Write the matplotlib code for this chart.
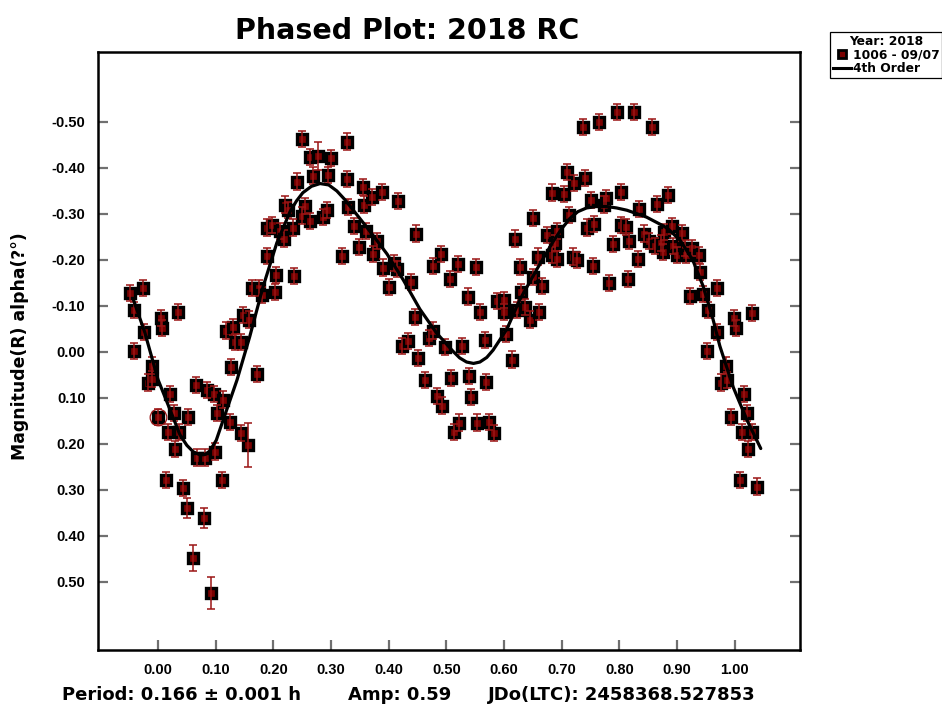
import matplotlib
matplotlib.use("Agg")
import matplotlib.pyplot as plt
from matplotlib.lines import Line2D

# ---------------- data ----------------
phase = [-0.049, -0.042, -0.026, -0.024, -0.042, 0.005, 0.007, 0.035, -0.010, -0.017,
         -0.010, 0.000, 0.014, 0.017, 0.021, 0.028, 0.029, 0.036, 0.043, 0.050,
         0.052, 0.061, 0.066, 0.068, 0.080, 0.081, 0.085, 0.092, 0.097, 0.099,
         0.102, 0.111, 0.113, 0.118, 0.125, 0.127, 0.130, 0.133, 0.144, 0.144,
         0.147, 0.156, 0.158, 0.163, 0.172, 0.175, 0.180, 0.189, 0.189, 0.198,
         0.203, 0.205, 0.211, 0.218, 0.220, 0.225, 0.234, 0.236, 0.241, 0.250,
         0.250, 0.255, 0.263, 0.263, 0.269, 0.277, 0.286, 0.293, 0.295, 0.300,
         0.319, 0.328, 0.328, 0.329, 0.340, 0.348, 0.355, 0.357, 0.360, 0.371,
         0.373, 0.380, 0.388, 0.390, 0.400, 0.409, 0.414, 0.416, 0.423, 0.433,
         0.438, 0.445, 0.447, 0.451, 0.463, 0.470, 0.477, 0.477, 0.484, 0.490,
         0.492, 0.497, 0.506, 0.508, 0.513, 0.520, 0.522, 0.527, 0.537, 0.539,
         0.542, 0.551, 0.553, 0.558, 0.567, 0.568, 0.574, 0.582, 0.588, 0.600,
         0.600, 0.603, 0.614, 0.619, 0.622, 0.627, 0.629, 0.636, 0.645, 0.650,
         0.650, 0.659, 0.660, 0.666, 0.674, 0.683, 0.683, 0.688, 0.692, 0.692,
         0.704, 0.709, 0.712, 0.719, 0.721, 0.726, 0.737, 0.740, 0.743, 0.750,
         0.754, 0.756, 0.764, 0.773, 0.776, 0.782, 0.789, 0.795, 0.802, 0.802,
         0.811, 0.815, 0.816, 0.825, 0.832, 0.834, 0.842, 0.851, 0.856, 0.861,
         0.865, 0.872, 0.875, 0.877, 0.884, 0.891, 0.893, 0.899, 0.908, 0.913,
         0.915, 0.925, 0.938, 0.939, 0.922, 0.945, 0.969, 0.953, 0.998, 1.002,
         1.029, 0.969, 0.951, 0.984, 0.976, 0.986, 1.016, 1.021, 0.993, 1.012,
         1.029, 1.023, 1.009, 1.038]

mag = [-0.128, -0.091, -0.139, -0.043, -0.002, -0.074, -0.052, -0.087, 0.030, 0.067,
       0.059, 0.141, 0.278, 0.174, 0.091, 0.133, 0.211, 0.174, 0.296, 0.339,
       0.141, 0.448, 0.072, 0.230, 0.361, 0.230, 0.083, 0.524, 0.091, 0.217,
       0.133, 0.278, 0.104, -0.046, 0.152, 0.033, -0.054, -0.022, -0.022, 0.176,
       -0.080, 0.202, -0.070, -0.139, 0.048, -0.139, -0.124, -0.209, -0.270, -0.276,
       -0.130, -0.167, -0.263, -0.246, -0.320, -0.309, -0.270, -0.165, -0.370, -0.463,
       -0.296, -0.317, -0.424, -0.285, -0.383, -0.426, -0.293, -0.309, -0.385, -0.422,
       -0.209, -0.457, -0.376, -0.315, -0.274, -0.228, -0.359, -0.320, -0.263, -0.337,
       -0.213, -0.241, -0.348, -0.183, -0.141, -0.193, -0.180, -0.328, -0.013, -0.024,
       -0.152, -0.076, -0.257, 0.013, 0.061, -0.030, -0.046, -0.187, 0.096, -0.213,
       0.117, -0.011, -0.159, 0.057, 0.174, -0.191, 0.154, -0.013, -0.120, 0.052,
       0.098, -0.185, 0.154, -0.087, -0.026, 0.065, 0.152, 0.176, -0.111, -0.113,
       -0.087, -0.039, 0.017, -0.246, -0.091, -0.185, -0.130, -0.098, -0.070, -0.163,
       -0.291, -0.207, -0.087, -0.143, -0.254, -0.346, -0.211, -0.237, -0.263, -0.202,
       -0.343, -0.391, -0.298, -0.207, -0.367, -0.200, -0.489, -0.378, -0.270, -0.330,
       -0.187, -0.278, -0.500, -0.320, -0.335, -0.150, -0.235, -0.522, -0.348, -0.276,
       -0.272, -0.159, -0.241, -0.522, -0.202, -0.311, -0.257, -0.241, -0.489, -0.230,
       -0.322, -0.237, -0.217, -0.261, -0.341, -0.274, -0.230, -0.211, -0.259, -0.226,
       -0.211, -0.226, -0.211, -0.174, -0.122, -0.126, -0.139, -0.091, -0.074, -0.052,
       -0.085, -0.043, -0.002, 0.030, 0.067, 0.061, 0.091, 0.133, 0.141, 0.174,
       0.174, 0.211, 0.278, 0.293]

default_err = 0.018
larger_err = {21: 0.028, 24: 0.022, 27: 0.035, 41: 0.048, 65: 0.03, 19: 0.022}
mag_err = [larger_err.get(i, default_err) for i in range(len(mag))]

circled_index = 11

fit_phase = [-0.043, -0.023, 0.000, 0.021, 0.038, 0.050, 0.061, 0.073, 0.082, 0.090,
             0.101, 0.113, 0.137, 0.159, 0.182, 0.206, 0.229, 0.240, 0.251, 0.266,
             0.281, 0.296, 0.310, 0.324, 0.338, 0.367, 0.397, 0.425, 0.454, 0.483,
             0.511, 0.523, 0.535, 0.547, 0.558, 0.570, 0.581, 0.605, 0.627, 0.657,
             0.685, 0.700, 0.714, 0.728, 0.743, 0.760, 0.778, 0.795, 0.813, 0.847,
             0.882, 0.905, 0.927, 0.945, 0.962, 0.974, 0.997, 1.021, 1.045]
fit_mag = [-0.115, -0.043, 0.060, 0.126, 0.180, 0.203, 0.217, 0.224, 0.223, 0.215,
           0.192, 0.148, 0.061, -0.033, -0.141, -0.237, -0.305, -0.328, -0.346, -0.360,
           -0.366, -0.363, -0.350, -0.331, -0.309, -0.263, -0.213, -0.157, -0.093, -0.041,
           -0.002, 0.013, 0.022, 0.025, 0.022, 0.012, -0.004, -0.050, -0.113, -0.180,
           -0.240, -0.268, -0.290, -0.305, -0.313, -0.316, -0.316, -0.313, -0.308, -0.293,
           -0.270, -0.243, -0.200, -0.143, -0.072, -0.013, 0.076, 0.148, 0.210]

x_ticks = [0.0, 0.1, 0.2, 0.3, 0.4, 0.5, 0.6, 0.7, 0.8, 0.9, 1.0]
y_ticks = [-0.5, -0.4, -0.3, -0.2, -0.1, 0.0, 0.1, 0.2, 0.3, 0.4, 0.5]

title = "Phased Plot: 2018 RC"
footer_parts = ["Period: 0.166 \u00b1 0.001 h", "Amp: 0.59", "JDo(LTC): 2458368.527853"]
ylabel = "Magnitude(R) alpha(?\u00b0)"
legend_title = "Year: 2018"
series_label = "1006 - 09/07"
fit_label = "4th Order"

# ---------------- style ----------------
plt.rcParams['font.family'] = ['Liberation Sans', 'DejaVu Sans']
plt.rcParams['font.weight'] = 'bold'
WIDE = ['DejaVu Sans']

W, H = 942, 707
fig = plt.figure(figsize=(W / 100, H / 100), dpi=100)
ax = fig.add_axes([98 / W, 1 - 650 / H, (800 - 98) / W, (650 - 52) / H])

fill = '#7a0000'
ebar = '#9b1515'

ax.plot(fit_phase, fit_mag, color='black', lw=2.3, zorder=4, solid_capstyle='round',
        solid_joinstyle='round')
ax.plot(phase, mag, linestyle='none', marker='s', ms=6.6, mfc=fill, mec='black',
        mew=2.4, zorder=2)
ax.errorbar(phase, mag, yerr=mag_err, fmt='none', ecolor=ebar, elinewidth=1.1,
            capsize=2.6, capthick=1.1, zorder=3)
ax.plot([phase[circled_index]], [mag[circled_index]], linestyle='none', marker='o',
        ms=12, mfc='none', mec=ebar, mew=0.9, zorder=3)

ax.set_xlim(-0.104, 1.113)
ax.set_ylim(0.648, -0.652)
ax.set_xticks(x_ticks)
ax.set_xticklabels([f"{v:.2f}" for v in x_ticks])
ax.set_yticks(y_ticks)
ax.set_yticklabels([f"{v:.2f}" for v in y_ticks])

for s in ax.spines.values():
    s.set_linewidth(1.8)
    s.set_color('black')
ax.tick_params(axis='both', direction='in', length=7, width=1.6, color='#707070',
               labelsize=10.5, right=True, top=False)
ax.tick_params(axis='x', pad=9)
ax.tick_params(axis='y', pad=9)
for lab in ax.get_xticklabels() + ax.get_yticklabels():
    lab.set_fontweight('bold')
    lab.set_family(['Liberation Sans'])

fig.text(20 / W, 1 - 346 / H, ylabel, rotation=90, ha='center', va='center',
         fontsize=12.4, fontweight='bold', family=WIDE)
fig.text(407 / W, 1 - 31 / H, title, ha='center', va='center', fontsize=20.5,
         fontweight='bold', family=WIDE)
footer_x = [62, 348, 488]
for xp, part in zip(footer_x, footer_parts):
    fig.text(xp / W, 1 - 695 / H, part, ha='left', va='center', fontsize=13.0,
             fontweight='bold', family=WIDE)

handles = [Line2D([], [], linestyle='none', marker='s', ms=6.0, mfc=fill, mec='black', mew=2.0),
           Line2D([], [], color='black', lw=2.2)]
leg = fig.legend(handles, [series_label, fit_label], title=legend_title,
                 loc='upper left', bbox_to_anchor=(830 / W, 1 - 32 / H),
                 prop={'weight': 'bold', 'size': 8.8, 'family': WIDE},
                 title_fontproperties={'weight': 'bold', 'size': 8.8, 'family': WIDE},
                 frameon=True, fancybox=False, edgecolor='black', framealpha=1,
                 borderpad=0.25, labelspacing=0.05, handlelength=1.5,
                 handletextpad=0.1, borderaxespad=0)
leg.get_frame().set_linewidth(0.9)

fig.savefig("out.png", dpi=100)
